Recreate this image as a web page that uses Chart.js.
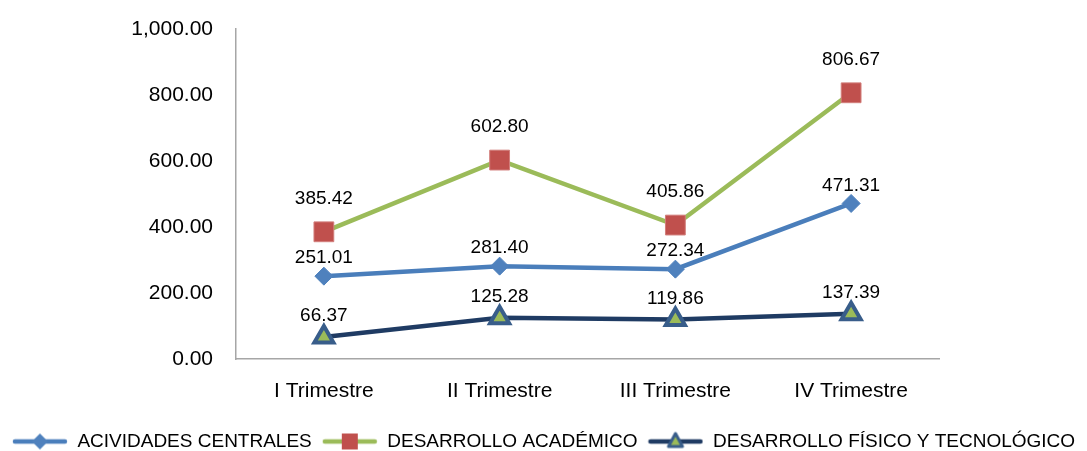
<!DOCTYPE html>
<html>
<head>
<meta charset="utf-8">
<script src="https://cdn.jsdelivr.net/npm/chart.js@4/dist/chart.umd.min.js"></script>
<style>
    html, body { margin: 0; padding: 0; background: #fff; }
    #wrap { width: 1087px; height: 451px; }
</style>
</head>
<body>
<div id="wrap"><canvas id="trimChart" width="1087" height="451"></canvas></div>
<script>
// --- data ---
const categories = ['I Trimestre', 'II Trimestre', 'III Trimestre', 'IV Trimestre'];
const seriesNames = ['ACIVIDADES CENTRALES', 'DESARROLLO ACADÉMICO', 'DESARROLLO FÍSICO Y TECNOLÓGICO'];
const centrales = [251.01, 281.40, 272.34, 471.31];
const academico = [385.42, 602.80, 405.86, 806.67];
const fisico = [66.37, 125.28, 119.86, 137.39];
const yTicks = [0, 200, 400, 600, 800, 1000];

const FONT = "'Liberation Sans', Arial, sans-serif";

// styles per series
const styles = [
    { line: '#4A7EBB', fill: '#4F81BD', border: '#4F81BD', point: 'rectRot', radius: 9, bw: 1, labelOff: 18 },
    { line: '#9BBB59', fill: '#C0504D', border: '#D27E7B', point: 'rect', radius: 14, bw: 1, labelOff: 33 },
    { line: '#1F3B63', fill: '#9BBB59', border: '#385D8A', point: 'triangle', radius: 11, bw: 4, labelOff: 21 }
];

// legend icon: short line with the marker in the middle
const legendIcon = (st) => {
    const c = document.createElement('canvas');
    c.width = 56; c.height = 24;
    const g = c.getContext('2d');
    g.strokeStyle = st.line; g.lineWidth = 4.5; g.lineCap = 'round';
    g.beginPath(); g.moveTo(3, 12); g.lineTo(53, 12); g.stroke();
    g.fillStyle = st.fill; g.strokeStyle = st.border;
    g.beginPath();
    if (st.point === 'rectRot') {
        g.moveTo(28, 4); g.lineTo(36, 12); g.lineTo(28, 20); g.lineTo(20, 12); g.closePath();
        g.fill();
    } else if (st.point === 'rect') {
        g.rect(20, 4, 16, 16); g.fill();
    } else {
        g.lineWidth = 3; g.lineJoin = 'round';
        g.moveTo(28, 4); g.lineTo(35, 17); g.lineTo(21, 17); g.closePath();
        g.fill(); g.stroke();
    }
    return c;
};

const dataLabels = {
    id: 'dataLabels',
    afterDatasetsDraw(chart) {
        const ctx = chart.ctx;
        ctx.save();
        ctx.font = '19px ' + FONT;
        ctx.fillStyle = '#000';
        ctx.textAlign = 'center';
        ctx.textBaseline = 'middle';
        chart.data.datasets.forEach((ds, i) => {
            const meta = chart.getDatasetMeta(i);
            meta.data.forEach((pt, j) => {
                ctx.fillText(ds.data[j].toFixed(2), pt.x, pt.y - styles[i].labelOff);
            });
        });
        ctx.restore();
    }
};

const allSeries = [centrales, academico, fisico];
const datasets = allSeries.map((vals, i) => ({
    label: seriesNames[i],
    data: vals,
    borderColor: styles[i].line,
    borderWidth: 4.5,
    pointStyle: styles[i].point,
    pointRadius: styles[i].radius,
    pointHoverRadius: styles[i].radius,
    pointBackgroundColor: styles[i].fill,
    pointBorderColor: styles[i].border,
    pointBorderWidth: styles[i].bw,
    tension: 0,
    fill: false
}));

new Chart(document.getElementById('trimChart'), {
    type: 'line',
    data: { labels: categories, datasets },
    options: {
        responsive: false,
        animation: false,
        devicePixelRatio: 1,
        layout: { padding: { top: 29, right: 0, left: 0, bottom: -10 } },
        plugins: {
            tooltip: { enabled: false },
            legend: {
                position: 'bottom',
                labels: {
                    usePointStyle: true,
                    pointStyleWidth: 56,
                    padding: 10,
                    color: '#000',
                    font: { family: FONT, size: 19 },
                    generateLabels: (chart) => chart.data.datasets.map((ds, i) => ({
                        text: ds.label,
                        pointStyle: legendIcon(styles[i]),
                        fillStyle: styles[i].fill,
                        strokeStyle: styles[i].line,
                        lineWidth: 0,
                        hidden: false,
                        datasetIndex: i
                    }))
                }
            }
        },
        scales: {
            x: {
                offset: true,
                grid: { display: false, drawTicks: false },
                border: { display: true, color: '#A6A6A6', width: 1.5 },
                ticks: { color: '#000', padding: 20, font: { family: FONT, size: 21 } },
                afterFit: (s) => { s.height = 63; }
            },
            y: {
                min: 0,
                max: 1000,
                afterBuildTicks: (s) => { s.ticks = yTicks.map(v => ({ value: v })); },
                grid: { display: false, drawTicks: false },
                border: { display: true, color: '#A6A6A6', width: 1.5 },
                ticks: {
                    color: '#000',
                    padding: 23,
                    font: { family: FONT, size: 21 },
                    callback: (v) => Number(v).toLocaleString('en-US', { minimumFractionDigits: 2, maximumFractionDigits: 2 })
                },
                // fixed width; the wide label gap should not push the plot down
                afterFit: (s) => { s.width = 236; s.paddingTop = 0; s.paddingBottom = 0; }
            },
            // empty right-hand strip so the plot ends where the original does
            yRight: {
                position: 'right',
                grid: { display: false, drawTicks: false },
                border: { display: false },
                ticks: { display: false },
                afterFit: (s) => { s.width = 148; }
            }
        }
    },
    plugins: [dataLabels]
});
</script>
</body>
</html>
